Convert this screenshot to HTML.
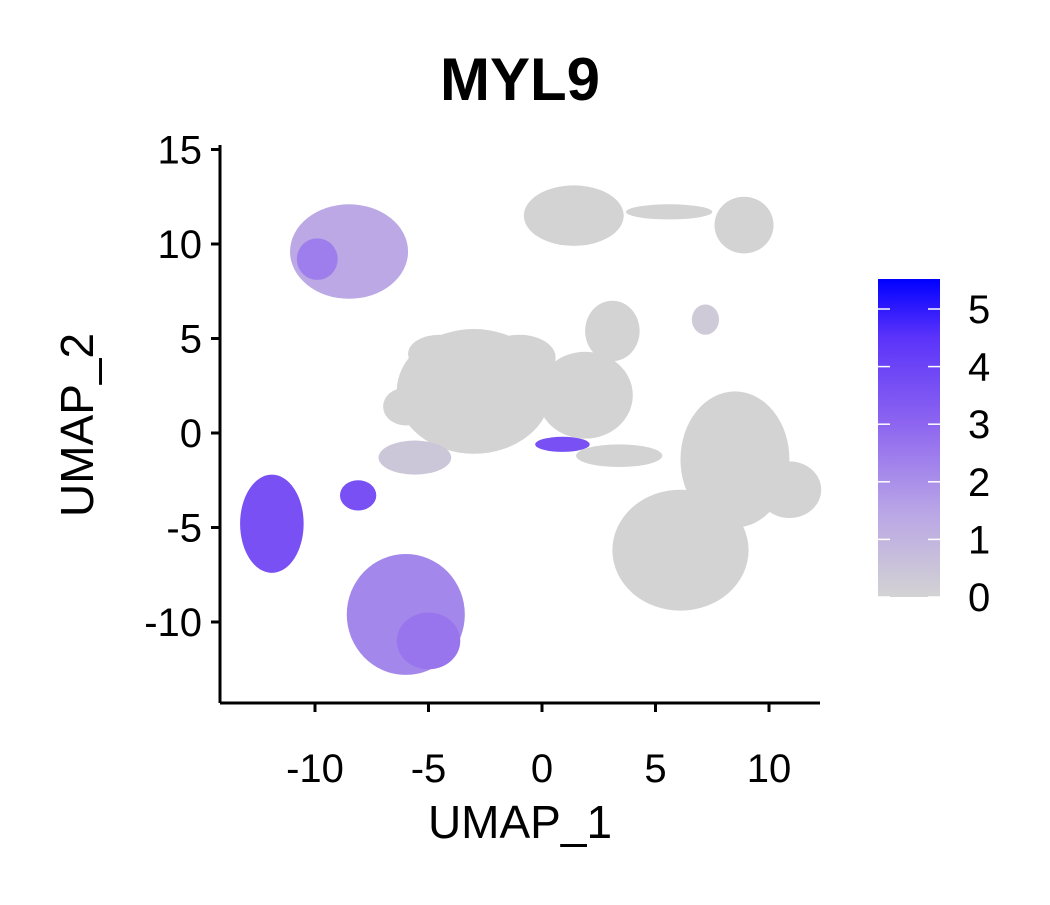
<!DOCTYPE html>
<html><head><meta charset="utf-8"><style>
body{margin:0;background:#fff;}
svg text{font-family:"Liberation Sans",Arial,sans-serif;}
</style></head><body>
<svg id="chart" width="1050" height="900" viewBox="0 0 1050 900">
<defs>
<linearGradient id="cbar" x1="0" y1="1" x2="0" y2="0">
<stop offset="0" stop-color="#d3d3d3"/><stop offset="0.27" stop-color="#b9a5e6"/><stop offset="0.55" stop-color="#8c64f0"/><stop offset="0.82" stop-color="#5a32fa"/><stop offset="1" stop-color="#0000ff"/>
</linearGradient>
</defs>
<text x="520" y="100" font-size="60" font-weight="bold" text-anchor="middle">MYL9</text>
<g id="blobs"></g>
<g id="axes"></g>
<text x="520" y="838" font-size="46" text-anchor="middle">UMAP_1</text>
<text transform="translate(93,425) rotate(-90)" font-size="46" text-anchor="middle">UMAP_2</text>
<g>
<rect x="878" y="279" width="62" height="318" fill="url(#cbar)"/>
<g id="cbticks"></g>
</g>
</svg>
<script>
// blob data (UMAP coordinates, radii in data units, expression value)
const blobX =  [1.4, 5.6, 8.9, -8.5, -3.0, -4.5, -1.0, -6.0, 3.1, 1.9, -5.6, 3.4, 8.5, 6.1, 10.9, 7.2, -11.9, -8.1, -6.0, 0.9, -9.9, -5.0];
const blobY =  [11.5, 11.7, 11.0, 9.6, 2.2, 4.2, 4.0, 1.4, 5.4, 2.0, -1.3, -1.2, -1.4, -6.2, -3.0, 6.0, -4.8, -3.3, -9.6, -0.6, 9.2, -11.0];
const blobRX = [2.2, 1.9, 1.3, 2.6, 3.4, 1.4, 1.6, 1.0, 1.2, 2.1, 1.6, 1.9, 2.4, 3.0, 1.4, 0.6, 1.4, 0.8, 2.6, 1.2, 0.9, 1.4];
const blobRY = [1.6, 0.4, 1.5, 2.5, 3.3, 1.0, 1.2, 1.0, 1.6, 2.3, 0.9, 0.6, 3.6, 3.2, 1.5, 0.8, 2.6, 0.8, 3.2, 0.4, 1.1, 1.5];
const blobV =  [0, 0, 0, 1.4, 0, 0, 0, 0, 0, 0, 0.4, 0, 0, 0, 0, 0.3, 3.6, 3.6, 2.2, 3.6, 2.4, 2.6];
const cbTicks = [0, 1, 2, 3, 4, 5];
const xTicks = [-10, -5, 0, 5, 10];
const yTicks = [-10, -5, 0, 5, 10, 15];

const xs = v => 542 + v * 22.7;
const ys = v => 433 - v * 18.9;
const cb = v => 597 - v * 57.6;
const NS = "http://www.w3.org/2000/svg";
const stops=[[0,211,211,211],[1.5,185,165,230],[3,140,100,240],[4.5,90,50,250],[5.5,0,0,255]];
function col(v){for(let i=1;i<stops.length;i++){if(v<=stops[i][0]){const a=stops[i-1],b=stops[i],t=(v-a[0])/(b[0]-a[0]);return `rgb(${[1,2,3].map(k=>Math.round(a[k]+(b[k]-a[k])*t)).join(',')})`;}}return 'rgb(0,0,255)';}

const blobs=document.getElementById('blobs');
blobX.forEach((x,i)=>{
  const e=document.createElementNS(NS,'ellipse');
  e.setAttribute('cx',xs(x));e.setAttribute('cy',ys(blobY[i]));
  e.setAttribute('rx',blobRX[i]*22.7);e.setAttribute('ry',blobRY[i]*18.9);
  e.setAttribute('fill',col(blobV[i]));
  
  
  blobs.appendChild(e);
});

const ax=document.getElementById('axes');
function line(x1,y1,x2,y2){const l=document.createElementNS(NS,'line');l.setAttribute('x1',x1);l.setAttribute('y1',y1);l.setAttribute('x2',x2);l.setAttribute('y2',y2);l.setAttribute('stroke','#000');l.setAttribute('stroke-width','3');ax.appendChild(l);return l;}
function txt(x,y,s,a,g,sz){const t=document.createElementNS(NS,'text');t.setAttribute('x',x);t.setAttribute('y',y);t.setAttribute('font-size',sz||40);t.setAttribute('text-anchor',a);t.textContent=s;(g||ax).appendChild(t);return t;}
const xl=line(220,703,820,703);


const yl=line(220,145,220,703);


xTicks.forEach(v=>{line(xs(v),703,xs(v),712);const t=txt(xs(v),782,v,'middle');
  
  });
yTicks.forEach(v=>{line(211,ys(v),220,ys(v));const t=txt(202,ys(v)+14,v,'end');
  
  });
const cg=document.getElementById('cbticks');
cbTicks.forEach(v=>{
  [[878,890],[928,940]].forEach(p=>{const l=document.createElementNS(NS,'line');l.setAttribute('x1',p[0]);l.setAttribute('x2',p[1]);l.setAttribute('y1',cb(v));l.setAttribute('y2',cb(v));l.setAttribute('stroke','#fff');l.setAttribute('stroke-width','1.5');cg.appendChild(l);});
  const t=txt(968,cb(v)+14,v,'start',cg);
  
  
});
</script>
</body></html>
